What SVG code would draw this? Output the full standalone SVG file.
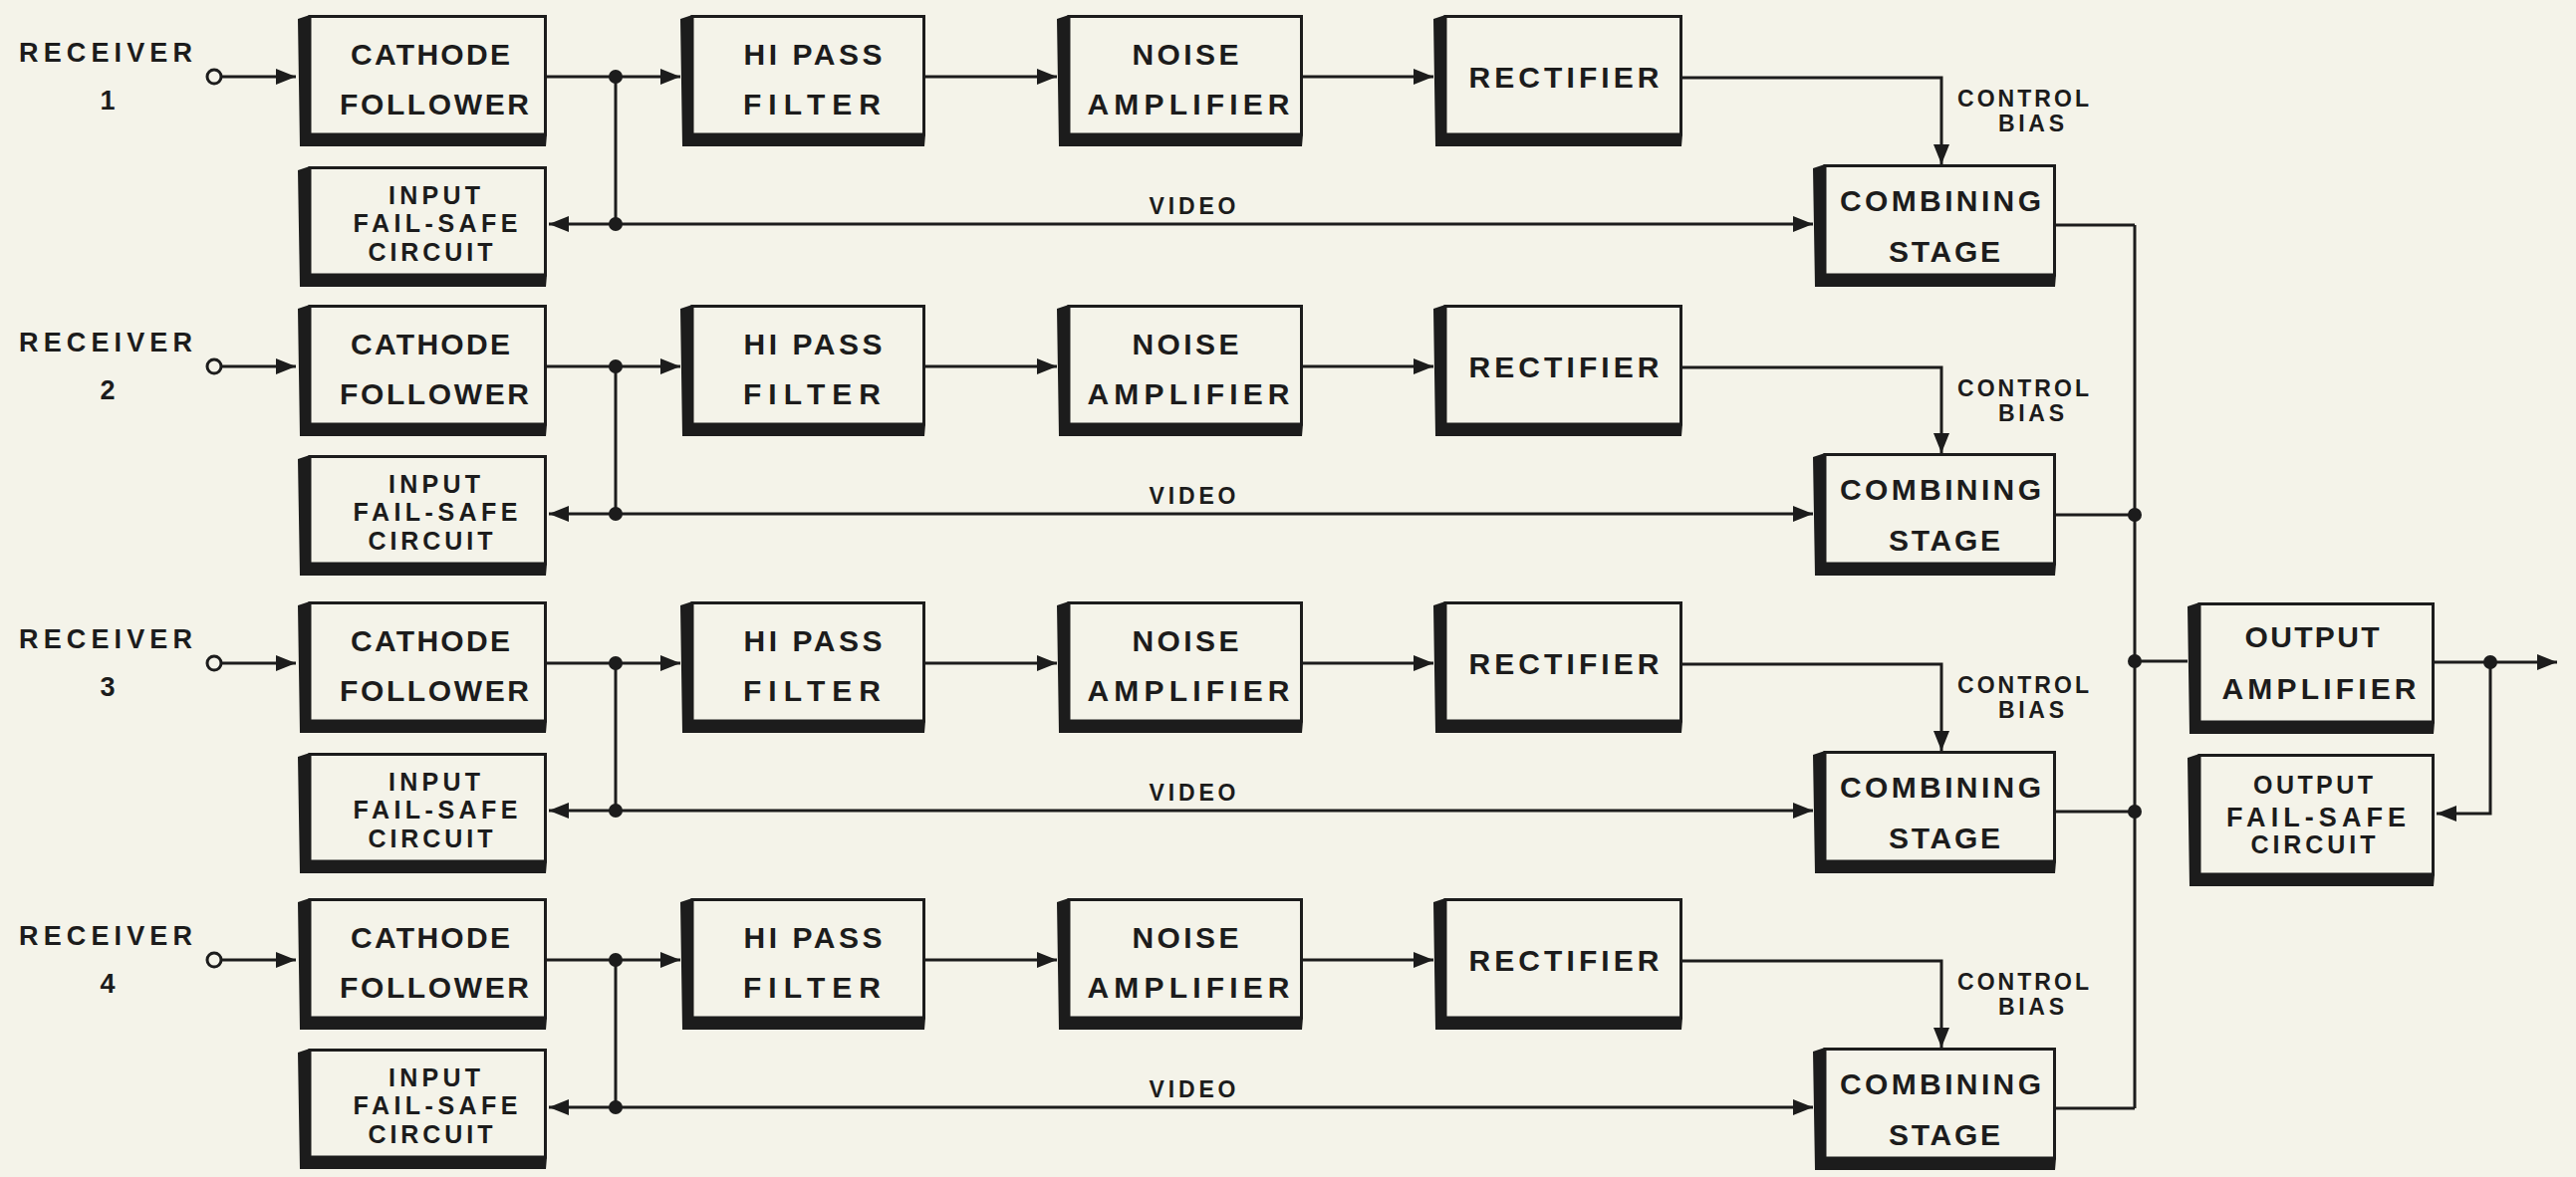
<svg xmlns="http://www.w3.org/2000/svg" width="2586" height="1182" viewBox="0 0 2586 1182">
<style>
.bx{fill:#f4f3e9;stroke:#1c1c1c;stroke-width:3}
.sh{fill:#1c1c1c}
.t{font-family:"Liberation Sans",Arial,sans-serif;font-weight:bold;fill:#1c1c1c;text-anchor:middle}
.f30{font-size:30px}.f27{font-size:27px}.f25{font-size:25px}.f23{font-size:23px}
.ln{stroke:#1c1c1c;stroke-width:3;fill:none}
.ar{stroke:#1c1c1c;stroke-width:3;fill:none;marker-end:url(#ah)}
.dot{fill:#1c1c1c}
.term{fill:#f4f3e9;stroke:#1c1c1c;stroke-width:3}
</style>
<defs>
<marker id="ah" viewBox="0 0 20 16" refX="20" refY="8" markerWidth="20" markerHeight="16" markerUnits="userSpaceOnUse" orient="auto"><path d="M0,0 L20,8 L0,16 z" fill="#1c1c1c"/></marker>
</defs>
<rect width="2586" height="1182" fill="#f4f3e9"/>

<!-- ROW 1 -->
<g id="receiver1"><text class="t f27" x="106" y="62" textLength="174">RECEIVER</text><text class="t f27" x="108" y="110">1</text><circle class="term" cx="215" cy="77" r="7"/></g>
<g id="cathode1"><rect class="bx" x="311" y="16.5" width="236.5" height="118.5"/><polygon class="sh" points="299,19 311,15 311,135 549,135 548,147 301,147"/><text class="t f30" x="432" y="65" textLength="160">CATHODE</text><text class="t f30" x="436" y="115" textLength="190">FOLLOWER</text></g>
<g id="failsafe1"><rect class="bx" x="311" y="168.5" width="236.5" height="107.5"/><polygon class="sh" points="299,171 311,167 311,276 549,276 548,288 301,288"/><text class="t f25" x="436" y="205" textLength="92">INPUT</text><text class="t f25" x="437" y="233" textLength="165">FAIL-SAFE</text><text class="t f25" x="432" y="262" textLength="125">CIRCUIT</text></g>
<g id="hipass1"><rect class="bx" x="695" y="16.5" width="232.5" height="118.5"/><polygon class="sh" points="683,19 695,15 695,135 929,135 928,147 685,147"/><text class="t f30" x="816" y="65" textLength="139">HI PASS</text><text class="t f30" x="815" y="115" textLength="138">FILTER</text></g>
<g id="noise1"><rect class="bx" x="1073" y="16.5" width="233.5" height="118.5"/><polygon class="sh" points="1061,19 1073,15 1073,135 1308,135 1307,147 1063,147"/><text class="t f30" x="1190" y="65" textLength="107">NOISE</text><text class="t f30" x="1193" y="115" textLength="203">AMPLIFIER</text></g>
<g id="rectifier1"><rect class="bx" x="1451" y="16.5" width="236.5" height="118.5"/><polygon class="sh" points="1439,19 1451,15 1451,135 1689,135 1688,147 1441,147"/><text class="t f30" x="1570" y="88" textLength="191">RECTIFIER</text></g>
<g id="combining1"><rect class="bx" x="1832" y="166.5" width="230.5" height="109.5"/><polygon class="sh" points="1820,169 1832,165 1832,276 2064,276 2063,288 1822,288"/><text class="t f30" x="1948" y="212" textLength="202">COMBINING</text><text class="t f30" x="1952" y="263" textLength="112">STAGE</text></g>

<!-- ROW 2 -->
<g id="receiver2" transform="translate(0,291)"><text class="t f27" x="106" y="62" textLength="174">RECEIVER</text><text class="t f27" x="108" y="110">2</text><circle class="term" cx="215" cy="77" r="7"/></g>
<g id="cathode2" transform="translate(0,291)"><rect class="bx" x="311" y="16.5" width="236.5" height="118.5"/><polygon class="sh" points="299,19 311,15 311,135 549,135 548,147 301,147"/><text class="t f30" x="432" y="65" textLength="160">CATHODE</text><text class="t f30" x="436" y="115" textLength="190">FOLLOWER</text></g>
<g id="failsafe2" transform="translate(0,290)"><rect class="bx" x="311" y="168.5" width="236.5" height="107.5"/><polygon class="sh" points="299,171 311,167 311,276 549,276 548,288 301,288"/><text class="t f25" x="436" y="205" textLength="92">INPUT</text><text class="t f25" x="437" y="233" textLength="165">FAIL-SAFE</text><text class="t f25" x="432" y="262" textLength="125">CIRCUIT</text></g>
<g id="hipass2" transform="translate(0,291)"><rect class="bx" x="695" y="16.5" width="232.5" height="118.5"/><polygon class="sh" points="683,19 695,15 695,135 929,135 928,147 685,147"/><text class="t f30" x="816" y="65" textLength="139">HI PASS</text><text class="t f30" x="815" y="115" textLength="138">FILTER</text></g>
<g id="noise2" transform="translate(0,291)"><rect class="bx" x="1073" y="16.5" width="233.5" height="118.5"/><polygon class="sh" points="1061,19 1073,15 1073,135 1308,135 1307,147 1063,147"/><text class="t f30" x="1190" y="65" textLength="107">NOISE</text><text class="t f30" x="1193" y="115" textLength="203">AMPLIFIER</text></g>
<g id="rectifier2" transform="translate(0,291)"><rect class="bx" x="1451" y="16.5" width="236.5" height="118.5"/><polygon class="sh" points="1439,19 1451,15 1451,135 1689,135 1688,147 1441,147"/><text class="t f30" x="1570" y="88" textLength="191">RECTIFIER</text></g>
<g id="combining2" transform="translate(0,290)"><rect class="bx" x="1832" y="166.5" width="230.5" height="109.5"/><polygon class="sh" points="1820,169 1832,165 1832,276 2064,276 2063,288 1822,288"/><text class="t f30" x="1948" y="212" textLength="202">COMBINING</text><text class="t f30" x="1952" y="263" textLength="112">STAGE</text></g>

<!-- ROW 3 -->
<g id="receiver3" transform="translate(0,589)"><text class="t f27" x="106" y="62" textLength="174">RECEIVER</text><text class="t f27" x="108" y="110">3</text><circle class="term" cx="215" cy="77" r="7"/></g>
<g id="cathode3" transform="translate(0,589)"><rect class="bx" x="311" y="16.5" width="236.5" height="118.5"/><polygon class="sh" points="299,19 311,15 311,135 549,135 548,147 301,147"/><text class="t f30" x="432" y="65" textLength="160">CATHODE</text><text class="t f30" x="436" y="115" textLength="190">FOLLOWER</text></g>
<g id="failsafe3" transform="translate(0,589)"><rect class="bx" x="311" y="168.5" width="236.5" height="107.5"/><polygon class="sh" points="299,171 311,167 311,276 549,276 548,288 301,288"/><text class="t f25" x="436" y="205" textLength="92">INPUT</text><text class="t f25" x="437" y="233" textLength="165">FAIL-SAFE</text><text class="t f25" x="432" y="262" textLength="125">CIRCUIT</text></g>
<g id="hipass3" transform="translate(0,589)"><rect class="bx" x="695" y="16.5" width="232.5" height="118.5"/><polygon class="sh" points="683,19 695,15 695,135 929,135 928,147 685,147"/><text class="t f30" x="816" y="65" textLength="139">HI PASS</text><text class="t f30" x="815" y="115" textLength="138">FILTER</text></g>
<g id="noise3" transform="translate(0,589)"><rect class="bx" x="1073" y="16.5" width="233.5" height="118.5"/><polygon class="sh" points="1061,19 1073,15 1073,135 1308,135 1307,147 1063,147"/><text class="t f30" x="1190" y="65" textLength="107">NOISE</text><text class="t f30" x="1193" y="115" textLength="203">AMPLIFIER</text></g>
<g id="rectifier3" transform="translate(0,589)"><rect class="bx" x="1451" y="16.5" width="236.5" height="118.5"/><polygon class="sh" points="1439,19 1451,15 1451,135 1689,135 1688,147 1441,147"/><text class="t f30" x="1570" y="88" textLength="191">RECTIFIER</text></g>
<g id="combining3" transform="translate(0,589)"><rect class="bx" x="1832" y="166.5" width="230.5" height="109.5"/><polygon class="sh" points="1820,169 1832,165 1832,276 2064,276 2063,288 1822,288"/><text class="t f30" x="1948" y="212" textLength="202">COMBINING</text><text class="t f30" x="1952" y="263" textLength="112">STAGE</text></g>

<!-- ROW 4 -->
<g id="receiver4" transform="translate(0,887)"><text class="t f27" x="106" y="62" textLength="174">RECEIVER</text><text class="t f27" x="108" y="110">4</text><circle class="term" cx="215" cy="77" r="7"/></g>
<g id="cathode4" transform="translate(0,887)"><rect class="bx" x="311" y="16.5" width="236.5" height="118.5"/><polygon class="sh" points="299,19 311,15 311,135 549,135 548,147 301,147"/><text class="t f30" x="432" y="65" textLength="160">CATHODE</text><text class="t f30" x="436" y="115" textLength="190">FOLLOWER</text></g>
<g id="failsafe4" transform="translate(0,886)"><rect class="bx" x="311" y="168.5" width="236.5" height="107.5"/><polygon class="sh" points="299,171 311,167 311,276 549,276 548,288 301,288"/><text class="t f25" x="436" y="205" textLength="92">INPUT</text><text class="t f25" x="437" y="233" textLength="165">FAIL-SAFE</text><text class="t f25" x="432" y="262" textLength="125">CIRCUIT</text></g>
<g id="hipass4" transform="translate(0,887)"><rect class="bx" x="695" y="16.5" width="232.5" height="118.5"/><polygon class="sh" points="683,19 695,15 695,135 929,135 928,147 685,147"/><text class="t f30" x="816" y="65" textLength="139">HI PASS</text><text class="t f30" x="815" y="115" textLength="138">FILTER</text></g>
<g id="noise4" transform="translate(0,887)"><rect class="bx" x="1073" y="16.5" width="233.5" height="118.5"/><polygon class="sh" points="1061,19 1073,15 1073,135 1308,135 1307,147 1063,147"/><text class="t f30" x="1190" y="65" textLength="107">NOISE</text><text class="t f30" x="1193" y="115" textLength="203">AMPLIFIER</text></g>
<g id="rectifier4" transform="translate(0,887)"><rect class="bx" x="1451" y="16.5" width="236.5" height="118.5"/><polygon class="sh" points="1439,19 1451,15 1451,135 1689,135 1688,147 1441,147"/><text class="t f30" x="1570" y="88" textLength="191">RECTIFIER</text></g>
<g id="combining4" transform="translate(0,887)"><rect class="bx" x="1832" y="166.5" width="230.5" height="109.5"/><polygon class="sh" points="1820,169 1832,165 1832,276 2064,276 2063,288 1822,288"/><text class="t f30" x="1948" y="212" textLength="202">COMBINING</text><text class="t f30" x="1952" y="263" textLength="112">STAGE</text></g>

<!-- OUTPUT -->
<g id="outamp"><rect class="bx" x="2208" y="606.5" width="234.5" height="118.5"/><polygon class="sh" points="2196,609 2208,605 2208,725 2444,725 2443,737 2198,737"/><text class="t f30" x="2321" y="650" textLength="135">OUTPUT</text><text class="t f30" x="2328" y="702" textLength="195">AMPLIFIER</text></g>
<g id="outfailsafe"><rect class="bx" x="2208" y="758.5" width="234.5" height="119.5"/><polygon class="sh" points="2196,761 2208,757 2208,878 2444,878 2443,890 2198,890"/><text class="t f25" x="2322" y="797" textLength="120">OUTPUT</text><text class="t f27" x="2325" y="830" textLength="180">FAIL-SAFE</text><text class="t f25" x="2322" y="857" textLength="125">CIRCUIT</text></g>

<g id="connectors">
<g id="conn-row1">
<path class="ar" d="M222,77 H297"/><path class="ar" d="M549,77 H683"/><path class="ln" d="M618,77 V225"/>
<path class="ar" d="M618,225 H551"/><path class="ar" d="M618,225 H1820"/>
<path class="ar" d="M929,77 H1061"/><path class="ar" d="M1308,77 H1439"/>
<path class="ar" d="M1689,78 H1949 V165"/><path class="ln" d="M2064,226 H2143"/>
<circle class="dot" cx="618" cy="77" r="7"/><circle class="dot" cx="618" cy="225" r="7"/>
<text class="t f23" x="2031" y="107" textLength="132">CONTROL</text><text class="t f23" x="2039" y="132" textLength="66">BIAS</text>
<text class="t f23" x="1197" y="215" textLength="87">VIDEO</text>
</g>
<g id="conn-row2" transform="translate(0,291)">
<path class="ar" d="M222,77 H297"/><path class="ar" d="M549,77 H683"/><path class="ln" d="M618,77 V225"/>
<path class="ar" d="M618,225 H551"/><path class="ar" d="M618,225 H1820"/>
<path class="ar" d="M929,77 H1061"/><path class="ar" d="M1308,77 H1439"/>
<path class="ar" d="M1689,78 H1949 V164"/><path class="ln" d="M2064,226 H2143"/>
<circle class="dot" cx="618" cy="77" r="7"/><circle class="dot" cx="618" cy="225" r="7"/>
<text class="t f23" x="2031" y="107" textLength="132">CONTROL</text><text class="t f23" x="2039" y="132" textLength="66">BIAS</text>
<text class="t f23" x="1197" y="215" textLength="87">VIDEO</text>
</g>
<g id="conn-row3" transform="translate(0,589)">
<path class="ar" d="M222,77 H297"/><path class="ar" d="M549,77 H683"/><path class="ln" d="M618,77 V225"/>
<path class="ar" d="M618,225 H551"/><path class="ar" d="M618,225 H1820"/>
<path class="ar" d="M929,77 H1061"/><path class="ar" d="M1308,77 H1439"/>
<path class="ar" d="M1689,78 H1949 V165"/><path class="ln" d="M2064,226 H2143"/>
<circle class="dot" cx="618" cy="77" r="7"/><circle class="dot" cx="618" cy="225" r="7"/>
<text class="t f23" x="2031" y="107" textLength="132">CONTROL</text><text class="t f23" x="2039" y="132" textLength="66">BIAS</text>
<text class="t f23" x="1197" y="215" textLength="87">VIDEO</text>
</g>
<g id="conn-row4" transform="translate(0,887)">
<path class="ar" d="M222,77 H297"/><path class="ar" d="M549,77 H683"/><path class="ln" d="M618,77 V225"/>
<path class="ar" d="M618,225 H551"/><path class="ar" d="M618,225 H1820"/>
<path class="ar" d="M929,77 H1061"/><path class="ar" d="M1308,77 H1439"/>
<path class="ar" d="M1689,78 H1949 V165"/><path class="ln" d="M2064,226 H2143"/>
<circle class="dot" cx="618" cy="77" r="7"/><circle class="dot" cx="618" cy="225" r="7"/>
<text class="t f23" x="2031" y="107" textLength="132">CONTROL</text><text class="t f23" x="2039" y="132" textLength="66">BIAS</text>
<text class="t f23" x="1197" y="215" textLength="87">VIDEO</text>
</g>
<g id="conn-output">
<path class="ln" d="M2143,226 V1113"/>
<circle class="dot" cx="2143" cy="517" r="7"/><circle class="dot" cx="2143" cy="815" r="7"/><circle class="dot" cx="2143" cy="664" r="7"/>
<path class="ln" d="M2143,664 H2196"/>
<path class="ar" d="M2444,665 H2567"/>
<path class="ar" d="M2500,665 V817 H2446"/>
<circle class="dot" cx="2500" cy="665" r="7"/>
</g>
</g>
</svg>
